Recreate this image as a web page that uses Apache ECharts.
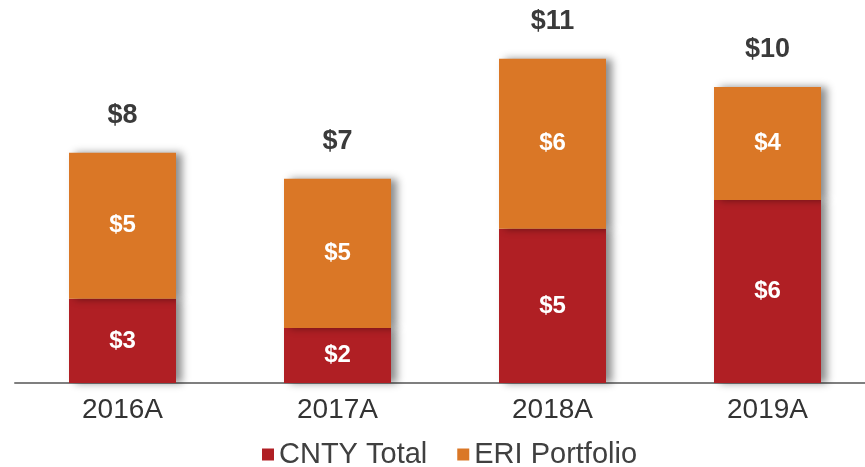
<!DOCTYPE html>
<html>
<head>
<meta charset="utf-8">
<script src="https://cdn.jsdelivr.net/npm/echarts@6/dist/echarts.min.js"></script>
<style>
  html, body { margin: 0; padding: 0; background: #fff; }
  #chart { width: 865px; height: 467px; }
</style>
</head>
<body>
<div id="chart"></div>
<script>
// data ($)
var years = ['2016A', '2017A', '2018A', '2019A'];
var cntyTotal = [2.86, 1.87, 5.24, 6.22];
var eriPortfolio = [4.97, 5.07, 5.78, 3.84];
var totals = years.map(function (y, i) { return cntyTotal[i] + eriPortfolio[i]; });

var chart = echarts.init(document.getElementById('chart'));

function money(p) { return '$' + Math.round(p.value); }

var barShadow = {
    shadowColor: 'rgba(0,0,0,0.45)',
    shadowBlur: 8,
    shadowOffsetX: 6,
    shadowOffsetY: 0
};

var option = {
    animation: false,
    textStyle: { fontFamily: 'Liberation Sans, Arial, sans-serif' },
    grid: { left: 15, width: 860, top: 30, bottom: 84, outerBoundsMode: 'none' },
    legend: {
        top: 435,
        left: 257,
        itemWidth: 12,
        itemHeight: 12,
        itemGap: 30,
        icon: 'rect',
        textStyle: { fontSize: 29, color: '#404040' },
        data: ['CNTY Total', 'ERI Portfolio']
    },
    xAxis: {
        type: 'category',
        data: years,
        axisLine: { lineStyle: { color: '#7f7f7f', width: 2 } },
        axisTick: { show: false },
        axisLabel: { fontSize: 28, color: '#333', margin: 13 }
    },
    yAxis: {
        type: 'value',
        min: 0,
        max: 12,
        show: false
    },
    series: [
        {
            name: 'CNTY Total',
            type: 'bar',
            stack: 'all',
            barWidth: 107,
            data: cntyTotal,
            itemStyle: Object.assign({ color: '#B01F24' }, barShadow),
            label: {
                show: true, position: 'inside', formatter: money,
                color: '#fff', fontSize: 24, fontWeight: 'bold'
            }
        },
        {
            name: 'ERI Portfolio',
            type: 'bar',
            stack: 'all',
            barWidth: 107,
            data: eriPortfolio,
            itemStyle: Object.assign({ color: '#DA7726' }, barShadow),
            label: {
                show: true, position: 'inside', formatter: money,
                color: '#fff', fontSize: 24, fontWeight: 'bold'
            }
        },
        {
            name: 'Total',
            type: 'scatter',
            data: totals,
            symbol: 'circle',
            symbolSize: 0,
            itemStyle: { opacity: 1 },
            label: {
                show: true, position: 'top', distance: 24, formatter: money,
                color: '#3a3a3a', fontSize: 27, fontWeight: 'bold'
            },
            z: 5
        }
    ]
};

chart.setOption(option);
</script>
</body>
</html>
